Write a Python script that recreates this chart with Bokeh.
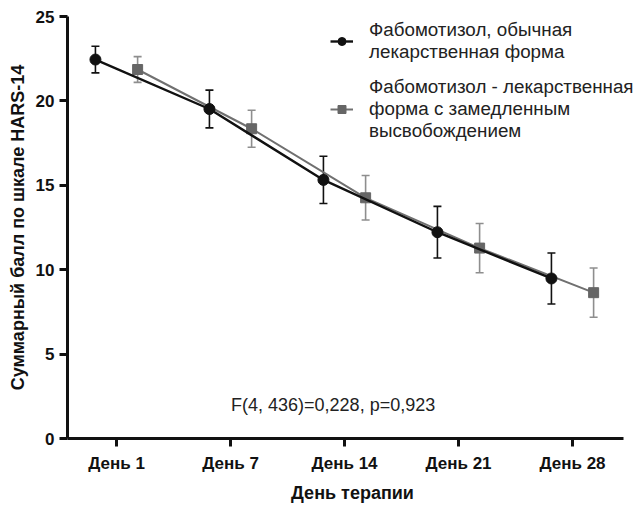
from bokeh.plotting import figure
from bokeh.models import (ColumnDataSource, Whisker, TeeHead, Legend, LegendItem,
                          Label, FixedTicker, Range1d)
from bokeh.embed import file_html
from bokeh.resources import INLINE

# ---- data ----
days = [1, 2, 3, 4, 5]
day_labels = ["День 1", "День 7", "День 14", "День 21", "День 28"]

mean_std = [22.45, 19.52, 15.32, 12.22, 9.48]
err_std = [0.79, 1.12, 1.40, 1.53, 1.51]

mean_ret = [21.86, 18.35, 14.26, 11.28, 8.64]
err_ret = [0.76, 1.10, 1.32, 1.46, 1.46]

label_std = "Фабомотизол, обычная\nлекарственная форма"
label_ret = "Фабомотизол - лекарственная\nформа с замедленным\nвысвобождением"
stat_text = "F(4, 436)=0,228, p=0,923"

# ---- style ----
FONT = "Liberation Sans"
BLACK = "#111111"
GRAY = "#707070"
GRAY_ERR = "#8e8e8e"
DODGE = 0.185
X_AXIS_START, X_AXIS_END = 0.57, 5.447

p = figure(width=637, height=505, output_backend="svg", toolbar_location=None,
           x_range=Range1d(X_AXIS_START, 5.57), y_range=Range1d(0, 25),
           min_border_left=67, min_border_right=0, min_border_top=16,
           min_border_bottom=62)
p.outline_line_color = None
p.xgrid.visible = False
p.ygrid.visible = False


def make_source(means, errs, shift):
    return ColumnDataSource(dict(
        x=[d + shift for d in days], y=means,
        lo=[m - e for m, e in zip(means, errs)],
        hi=[m + e for m, e in zip(means, errs)]))


src_std = make_source(mean_std, err_std, -DODGE)
src_ret = make_source(mean_ret, err_ret, DODGE)

# extended-release series (gray)
w2 = Whisker(source=src_ret, base="x", lower="lo", upper="hi",
             line_color=GRAY_ERR, line_width=1.6,
             upper_head=TeeHead(size=8, line_color=GRAY_ERR, line_width=1.6),
             lower_head=TeeHead(size=8, line_color=GRAY_ERR, line_width=1.6))
p.add_layout(w2)
l2 = p.line("x", "y", source=src_ret, line_color=GRAY, line_width=2)
m2 = p.scatter("x", "y", source=src_ret, marker="square", size=10,
               fill_color="#666666", line_color="#666666")

# standard series (black)
w1 = Whisker(source=src_std, base="x", lower="lo", upper="hi",
             line_color=BLACK, line_width=1.6,
             upper_head=TeeHead(size=8, line_color=BLACK, line_width=1.6),
             lower_head=TeeHead(size=8, line_color=BLACK, line_width=1.6))
p.add_layout(w1)
l1 = p.line("x", "y", source=src_std, line_color=BLACK, line_width=2.4)
m1 = p.scatter("x", "y", source=src_std, marker="circle", size=11,
               fill_color=BLACK, line_color=BLACK)

legend = Legend(items=[LegendItem(label=label_std, renderers=[l1, m1]),
                       LegendItem(label=label_ret, renderers=[l2, m2])],
                location=(263, 296), border_line_alpha=0,
                background_fill_alpha=0, padding=0, margin=0,
                glyph_width=23, label_standoff=16, spacing=13,
                label_text_font=FONT, label_text_font_size="18.8px",
                label_text_color="#222222")
p.add_layout(legend, "center")

p.add_layout(Label(x=2.9, y=2.0, text=stat_text, text_align="center",
                   text_baseline="middle", text_font=FONT,
                   text_font_size="18px", text_color="#222222"))

# axes
for ax in (p.xaxis[0], p.yaxis[0]):
    ax.axis_line_width = 3
    ax.axis_line_color = BLACK
    ax.major_tick_line_width = 3
    ax.major_tick_line_color = BLACK
    ax.major_tick_in = 0
    ax.major_tick_out = 8
    ax.minor_tick_line_color = None
    ax.major_label_text_font = FONT
    ax.major_label_text_font_style = "bold"
    ax.major_label_text_font_size = "17px"
    ax.major_label_text_color = BLACK
    ax.axis_label_text_font = FONT
    ax.axis_label_text_font_style = "bold"
    ax.axis_label_text_font_size = "18px"
    ax.axis_label_text_color = BLACK

p.xaxis.bounds = (X_AXIS_START, X_AXIS_END)
p.xaxis.ticker = FixedTicker(ticks=days)
p.xaxis.major_label_overrides = {d: s for d, s in zip(days, day_labels)}
p.xaxis.axis_label = "День терапии"
p.xaxis.major_label_standoff = 7
p.xaxis.axis_label_standoff = 7

p.yaxis.ticker = FixedTicker(ticks=[0, 5, 10, 15, 20, 25])
p.yaxis.axis_label = "Суммарный балл по шкале HARS-14"
p.yaxis.major_label_standoff = 5
p.yaxis.axis_label_standoff = 5

open("out.html", "w").write(file_html(p, INLINE))
